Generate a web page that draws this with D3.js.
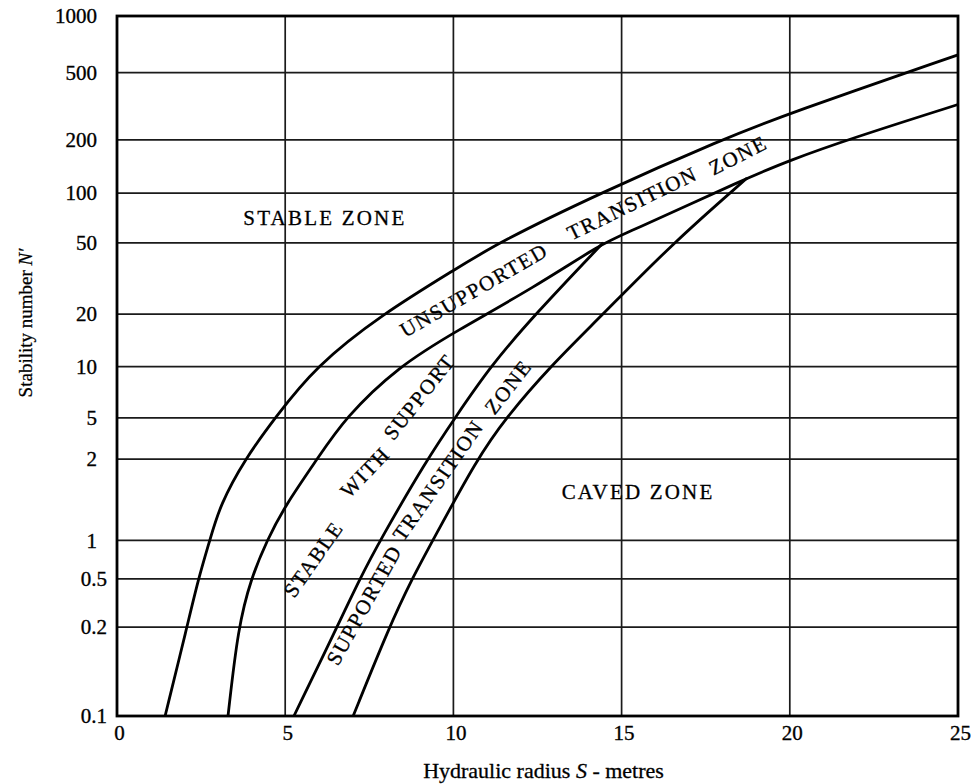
<!DOCTYPE html>
<html>
<head>
<meta charset="utf-8">
<script src="https://cdn.jsdelivr.net/npm/d3@7"></script>
<style>
  body { margin: 0; background: #fff; }
  svg { display: block; font-family: "Liberation Serif", "Times New Roman", serif; }
</style>
</head>
<body>
<div id="chart"></div>
<script>
const width = 975;
const height = 784;
const marginTop = 16;
const marginRight = 17;
const marginBottom = 68;
const marginLeft = 117;

// axis ticks
const xTicks = [0, 5, 10, 15, 20, 25];
const yTicks = [0.1, 0.2, 0.5, 1, 2, 5, 10, 20, 50, 100, 200, 500, 1000];
// the original graph does not space its log decades evenly (lower decades are squeezed),
// so each tick gets its own height, as a fraction of the plot (0 = bottom, 1 = top)
const yTickFrac = [0, 0.127, 0.196, 0.251, 0.367, 0.426, 0.499, 0.574, 0.676, 0.747, 0.823, 0.919, 1];

// boundary curves, [hydraulic radius S, stability number N']
const stableUpper = [
  [1.43, 0.1], [2.08, 0.2], [2.41, 0.49], [2.76, 1], [3.06, 1.35], [3.8, 2], [4.7, 5],
  [5.89, 10], [7.88, 20], [10.08, 35.8], [11.33, 50], [14.36, 100], [18.01, 202],
  [19.95, 286], [25, 622]
];
const unsupportedLower = [
  [3.3, 0.1], [3.6, 0.2], [3.98, 0.5], [4.46, 1], [4.99, 1.34], [5.95, 2], [6.78, 5],
  [8.35, 10], [10.08, 16], [12.37, 28], [14.45, 50], [15.04, 55.9], [18.73, 121.7],
  [19.95, 152], [21.79, 203], [25, 324]
];
const supportedUpper = [
  [5.26, 0.1], [6.54, 0.2], [7.22, 0.5], [7.82, 1], [9.22, 2], [10.05, 5], [11.09, 10],
  [12.43, 20], [14.45, 50]
];
const cavedUpper = [
  [7.02, 0.1], [8.09, 0.2], [8.77, 0.5], [9.39, 1], [10.7, 2], [11.56, 5],
  [12.87, 10], [14.36, 19.2], [16.53, 50], [18.73, 121.7]
];
const curves = [stableUpper, unsupportedLower, supportedUpper, cavedUpper];

// zone labels: text, S, N', angle
const zoneLabels = [
  ["STABLE ZONE", 6.18, 70.7, 0],
  ["CAVED ZONE", 15.49, 1.52, 0],
  ["UNSUPPORTED", 10.61, 27.3, -30],
  ["TRANSITION", 15.31, 87, -26],
  ["ZONE", 18.46, 164, -27],
  ["STABLE", 5.83, 0.713, -55],
  ["WITH", 7.37, 1.79, -46],
  ["SUPPORT", 8.98, 6.65, -52],
  ["SUPPORTED", 7.34, 0.305, -61],
  ["TRANSITION", 9.54, 1.67, -55],
  ["ZONE", 11.62, 7.63, -52]
];

const innerW = width - marginLeft - marginRight;
const innerH = height - marginTop - marginBottom;

const x = d3.scaleLinear()
  .domain([0, 25])
  .range([0, innerW]);

// piecewise log scale, one segment per tick
const y = d3.scaleLog()
  .domain(yTicks)
  .range(yTickFrac.map(f => innerH * (1 - f)));

const svg = d3.select("#chart")
  .append("svg")
  .attr("width", width)
  .attr("height", height)
  .attr("viewBox", [0, 0, width, height]);

const g = svg.append("g")
  .attr("transform", `translate(${marginLeft},${marginTop})`);

// grid
g.append("g")
  .attr("stroke", "#1a1a1a")
  .attr("stroke-width", 1.7)
  .selectAll("line")
  .data(yTicks.slice(1, -1))
  .join("line")
  .attr("x1", 0)
  .attr("x2", innerW)
  .attr("y1", d => y(d))
  .attr("y2", d => y(d));

g.append("g")
  .attr("stroke", "#1a1a1a")
  .attr("stroke-width", 1.7)
  .selectAll("line")
  .data(xTicks.slice(1, -1))
  .join("line")
  .attr("x1", d => x(d))
  .attr("x2", d => x(d))
  .attr("y1", 0)
  .attr("y2", innerH);

// frame
g.append("rect")
  .attr("width", innerW)
  .attr("height", innerH)
  .attr("fill", "none")
  .attr("stroke", "#000")
  .attr("stroke-width", 2.8);

// axes
const styleTicks = ax => ax.selectAll("text")
  .attr("font-size", 21)
  .attr("fill", "#000")
  .attr("stroke", "#000")
  .attr("stroke-width", 0.35)
  .attr("font-family", "Liberation Serif, serif");

g.append("g")
  .call(d3.axisLeft(y).tickValues(yTicks).tickSize(0).tickPadding(20).tickFormat(d => String(d)))
  .call(ax => ax.select(".domain").remove())
  .call(styleTicks)
  .call(ax => ax.selectAll("text").filter(d => d < 1).attr("x", -10));

g.append("g")
  .attr("transform", `translate(0,${innerH})`)
  .call(d3.axisBottom(x).tickValues(xTicks).tickSize(0).tickPadding(9))
  .call(ax => ax.select(".domain").remove())
  .call(styleTicks)
  .call(ax => ax.selectAll("text").attr("dx", 2));

// curves (hand drawn in the original, so a smoothing spline)
const line = d3.line()
  .x(d => x(d[0]))
  .y(d => y(d[1]))
  .curve(d3.curveBasis);

g.append("g")
  .attr("fill", "none")
  .attr("stroke", "#000")
  .attr("stroke-width", 2.8)
  .attr("stroke-linejoin", "round")
  .selectAll("path")
  .data(curves)
  .join("path")
  .attr("d", line);

// zone labels
g.append("g")
  .attr("font-size", 21)
  .attr("stroke", "#000")
  .attr("stroke-width", 0.3)
  .attr("text-anchor", "middle")
  .selectAll("text")
  .data(zoneLabels)
  .join("text")
  .attr("transform", d => `translate(${x(d[1])},${y(d[2])}) rotate(${d[3]})`)
  .attr("letter-spacing", d => d[3] === 0 ? 2.2 : 1.6)
  .attr("dy", "0.35em")
  .text(d => d[0]);

// axis titles
const xTitle = svg.append("text")
  .attr("x", marginLeft + innerW / 2 + 6)
  .attr("y", 778)
  .attr("text-anchor", "middle")
  .attr("font-size", 22)
  .attr("stroke", "#000")
  .attr("stroke-width", 0.3);
xTitle.append("tspan").text("Hydraulic radius ");
xTitle.append("tspan").attr("font-style", "italic").text("S");
xTitle.append("tspan").text(" - metres");

const yTitle = svg.append("text")
  .attr("transform", "translate(25,323) rotate(-90)")
  .attr("dy", "0.35em")
  .attr("text-anchor", "middle")
  .attr("font-size", 19)
  .attr("stroke", "#000")
  .attr("stroke-width", 0.25);
yTitle.append("tspan").text("Stability number ");
yTitle.append("tspan").attr("font-style", "italic").text("N′");
</script>
</body>
</html>
